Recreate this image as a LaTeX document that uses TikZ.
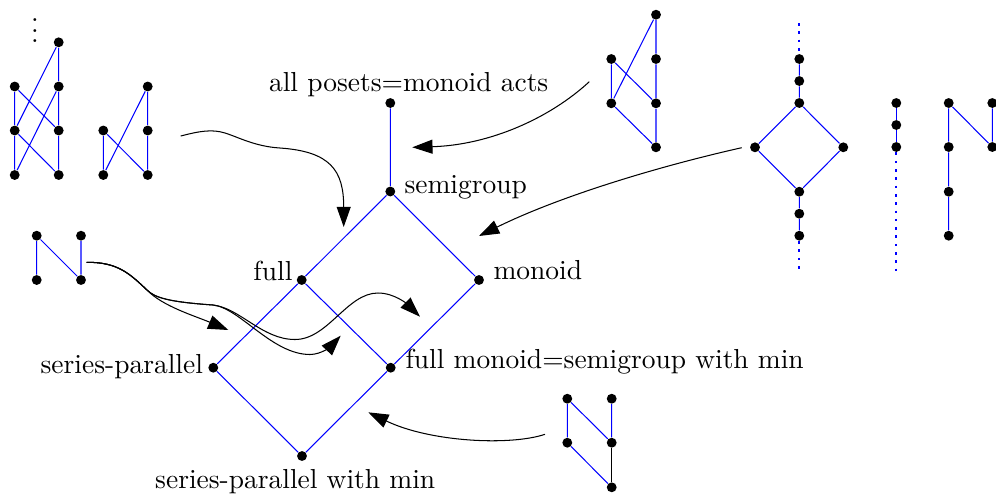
\documentclass[tikz,border=0pt]{standalone}
\usetikzlibrary{arrows.meta}
\begin{document}
\begin{tikzpicture}[x=0.013544cm,y=-0.013544cm,
  vtx/.style={circle,fill=black,inner sep=0pt,minimum size=3.8pt},
  bl/.style={blue,line width=0.4pt},
  bldot/.style={blue,line width=0.65pt,dash pattern=on 1pt off 2.2pt},
  conn/.style={black,line width=0.4pt,-{Triangle[length=7.8pt,width=5.4pt]}},
  lab/.style={inner sep=0pt,font=\fontsize{10.6pt}{12.7pt}\selectfont}]
\useasboundingbox (0,0) rectangle (996,496);

% ---------- poset A (top left) ----------
\node[vtx] (a1) at (14.7,175) {};
\node[vtx] (a2) at (14.7,130.5) {};
\node[vtx] (a3) at (14.7,86.5) {};
\node[vtx] (a4) at (58.7,175) {};
\node[vtx] (a5) at (58.7,130.5) {};
\node[vtx] (a6) at (58.7,86.5) {};
\node[vtx] (a7) at (58.7,42.3) {};
\node[lab,anchor=base] (av) at (35,42.5) {$\vdots$};
\draw[bl] (a1)--(a2) (a2)--(a3) (a4)--(a5) (a5)--(a6) (a6)--(a7)
          (a3)--(a5) (a2)--(a7) (a2)--(a4) (a1)--(a6);

% ---------- poset B ----------
\node[vtx] (b1) at (103.3,175) {};
\node[vtx] (b2) at (103.3,130.5) {};
\node[vtx] (b3) at (147.7,175) {};
\node[vtx] (b4) at (147.7,130.5) {};
\node[vtx] (b5) at (147.7,86.5) {};
\draw[bl] (b1)--(b2) (b3)--(b4) (b4)--(b5) (b2)--(b3) (b1)--(b5);

% ---------- poset C ----------
\node[vtx] (c1) at (656,14.7) {};
\node[vtx] (c2) at (656,59) {};
\node[vtx] (c3) at (656,103.3) {};
\node[vtx] (c4) at (656,147.3) {};
\node[vtx] (c5) at (611.3,59) {};
\node[vtx] (c6) at (611.3,103.3) {};
\draw[bl] (c1)--(c2) (c2)--(c3) (c3)--(c4) (c5)--(c6) (c5)--(c3) (c6)--(c1) (c6)--(c4);

% ---------- poset D ----------
\node[vtx] (d1) at (799.3,59) {};
\node[vtx] (d2) at (799.3,81) {};
\node[vtx] (d3) at (799.3,103) {};
\node[vtx] (dl) at (755,147.3) {};
\node[vtx] (dr) at (843.3,147.3) {};
\node[vtx] (d4) at (799.3,191.7) {};
\node[vtx] (d5) at (799.3,213.7) {};
\node[vtx] (d6) at (799.3,235.7) {};
\coordinate (dtop) at (799.3,23);
\coordinate (dbot) at (799.3,271);
\draw[bl] (d1)--(d2) (d2)--(d3) (d3)--(dl) (d3)--(dr) (dl)--(d4) (dr)--(d4) (d4)--(d5) (d5)--(d6);
\draw[bldot] (dtop)--(d1) (d6)--(dbot);

% ---------- chain E ----------
\node[vtx] (e1) at (896.3,103) {};
\node[vtx] (e2) at (896.3,125) {};
\node[vtx] (e3) at (896.3,147) {};
\coordinate (ebot) at (896.3,271);
\draw[bl] (e1)--(e2) (e2)--(e3);
\draw[bldot] (e3)--(ebot);

% ---------- poset F ----------
\node[vtx] (f1) at (948.7,103) {};
\node[vtx] (f2) at (948.7,147) {};
\node[vtx] (f3) at (948.7,191.7) {};
\node[vtx] (f4) at (948.7,235.7) {};
\node[vtx] (f5) at (992.3,103) {};
\node[vtx] (f6) at (992.3,147) {};
\draw[bl] (f1)--(f2) (f2)--(f3) (f3)--(f4) (f1)--(f6) (f5)--(f6);

% ---------- poset G ----------
\node[vtx] (g1) at (567.3,398.7) {};
\node[vtx] (g2) at (567.3,442.7) {};
\node[vtx] (g3) at (611.7,398.7) {};
\node[vtx] (g4) at (611.7,442.7) {};
\node[vtx] (g5) at (611.7,487.3) {};
\draw[bl] (g1)--(g2) (g1)--(g4) (g3)--(g4) (g2)--(g5);
\draw[black,line width=0.4pt] (g4)--(g5);

% ---------- poset H (N) ----------
\node[vtx] (h1) at (36.7,235.7) {};
\node[vtx] (h2) at (36.7,280) {};
\node[vtx] (h3) at (81,235.7) {};
\node[vtx] (h4) at (81,280) {};
\draw[bl] (h1)--(h2) (h1)--(h4) (h3)--(h4);

% ---------- main lattice ----------
\node[vtx] (m1) at (390.3,103) {};
\node[vtx] (m2) at (390.3,191.5) {};
\node[vtx] (m3) at (301.7,280) {};
\node[vtx] (m4) at (479,280) {};
\node[vtx] (m5) at (213.3,367.7) {};
\node[vtx] (m6) at (390.7,367.7) {};
\node[vtx] (m7) at (302,456) {};
\draw[bl] (m1)--(m2) (m2)--(m3) (m2)--(m4) (m3)--(m5) (m3)--(m6) (m4)--(m6) (m5)--(m7) (m6)--(m7);

\node[lab,anchor=base] (l1) at (408.7,91) {all posets=monoid acts};
\node[lab,anchor=base west] (l2) at (404,193) {semigroup};
\node[lab,anchor=base east] (l3) at (293,280) {full};
\node[lab,anchor=base west] (l4) at (493,279) {monoid};
\node[lab,anchor=base east] (l5) at (203.5,373) {series-parallel};
\node[lab,anchor=base west] (l6) at (405,368) {full monoid=semigroup with min};
\node[lab,anchor=base] (l7) at (295.2,488.3) {series-parallel with min};

% ---------- connectors ----------
\coordinate (s1) at (180.7,136);
\coordinate (t1) at (343.7,227);
\draw[conn] (s1) .. controls (200,131) and (212,129) .. (225,133)
  .. controls (238,137) and (255,146.5) .. (280,148)
  .. controls (330,151.5) and (343.7,170) .. (t1);

\coordinate (s2) at (589.3,81.7);
\coordinate (t2) at (412.3,147.3);
\draw[conn] (s2) .. controls (550,118) and (490,145) .. (t2);

\coordinate (s3) at (741.7,147.7);
\coordinate (t3) at (479,236);
\draw[conn] (s3) .. controls (660,166) and (560,196) .. (t3);

\coordinate (s4) at (545,434.3);
\coordinate (t4) at (368.3,412.3);
\draw[conn] (s4) .. controls (510,446) and (430,442) .. (t4);

\coordinate (s5) at (86.7,262.3);
\coordinate (t5a) at (228.3,330);
\coordinate (t5b) at (420,316.7);
\coordinate (t5c) at (340.7,335.7);
\draw[conn] (s5) .. controls (118,262) and (130,274) .. (147,290)
  .. controls (162,306) and (195,316) .. (t5a);
\draw[conn] (s5) .. controls (118,262) and (130,274) .. (147,290)
  .. controls (155,298) and (170,302) .. (213,305)
  .. controls (240,308) and (262,339.5) .. (295,339.5)
  .. controls (328,339.5) and (347,293) .. (378,293)
  .. controls (395,293) and (408,305) .. (t5b);
\draw[conn] (s5) .. controls (118,262) and (130,274) .. (147,290)
  .. controls (155,298) and (170,302) .. (213,305)
  .. controls (240,308) and (272,354.5) .. (310,354.5)
  .. controls (322,354.5) and (332,345) .. (t5c);
\end{tikzpicture}
\end{document}
